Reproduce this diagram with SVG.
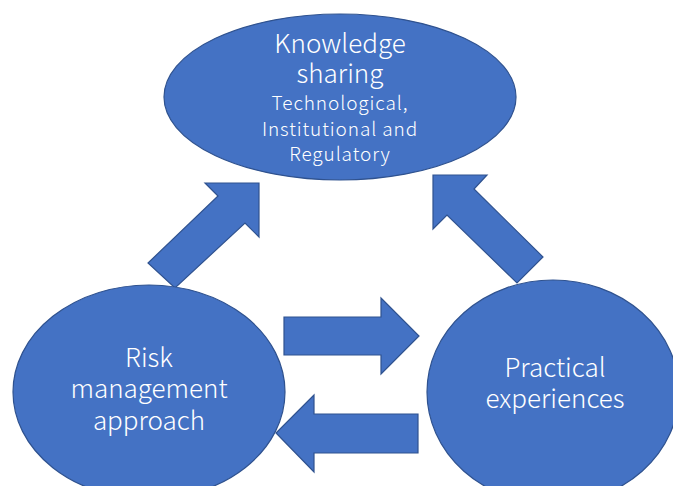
<svg xmlns="http://www.w3.org/2000/svg" width="673" height="486" viewBox="0 0 673 486">
  <style>
    .shape { fill: #4472C4; stroke: #2F528F; stroke-width: 1.2; }
    .big { font-family: "Noto Sans CJK JP", "Noto Sans", sans-serif; font-weight: 300; font-size: 26px; fill: #FFFFFF; text-anchor: middle; }
    .small { font-family: "Noto Sans CJK JP", "Noto Sans", sans-serif; font-weight: 300; font-size: 19px; letter-spacing: 0.9px; fill: #FFFFFF; text-anchor: middle; }
  </style>
  <rect width="673" height="486" fill="#FFFFFF"/>

  <!-- block arrows between the three areas -->
  <g id="connectors">
    <polygon class="shape" points="205,183 259,183 259,237 245,223 175,288 148,263 218,196"/>
    <polygon class="shape" points="433,175 487,175 474,189 543,257 517,283 447,215 433,229"/>
    <polygon class="shape" points="284,317 381,317 381,298 419,336 381,374 381,355 284,355"/>
    <polygon class="shape" points="418,414 314,414 314,395 276,433 314,472 314,453 418,453"/>
  </g>

  <g id="knowledge-sharing">
    <ellipse class="shape" cx="340" cy="97" rx="176" ry="83"/>
    <text class="big" x="340" y="53">Knowledge</text>
    <text class="big" x="340" y="83">sharing</text>
    <text class="small" x="340" y="110">Technological,</text>
    <text class="small" x="340" y="136">Institutional and</text>
    <text class="small" x="340" y="161">Regulatory</text>
  </g>

  <g id="risk-management">
    <ellipse class="shape" cx="149" cy="392" rx="136" ry="107"/>
    <text class="big" x="149" y="367">Risk</text>
    <text class="big" x="149" y="398">management</text>
    <text class="big" x="149" y="430">approach</text>
  </g>

  <g id="practical-experiences">
    <ellipse class="shape" cx="553" cy="392" rx="126" ry="112"/>
    <text class="big" x="555" y="377">Practical</text>
    <text class="big" x="555" y="408">experiences</text>
  </g>
</svg>
